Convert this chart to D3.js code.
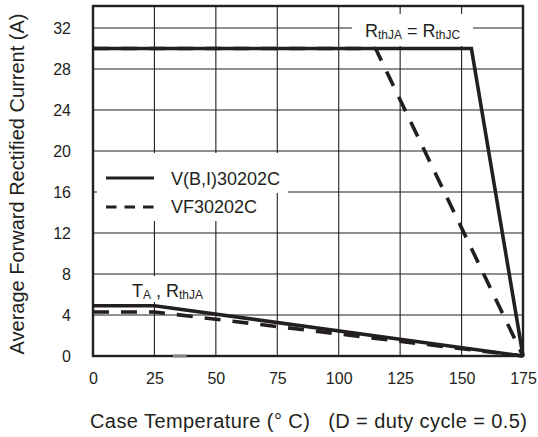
<!DOCTYPE html>
<html><head><meta charset="utf-8">
<script src="https://cdn.jsdelivr.net/npm/d3@7"></script>
<style>body{margin:0;background:#fff}svg{display:block}text{font-family:"Liberation Sans",Arial,sans-serif;fill:#231f20}</style>
</head><body>
<script>
const xTicks = [0,25,50,75,100,125,150,175];
const yTicks = [0,4,8,12,16,20,24,28,32];
const solidCase = [[0,30],[154,30],[175,0]];
const dashedCase = [[0,30],[115,30],[175,0]];
const solidAmb = [[0,4.9],[25,4.9],[175,0]];
const dashedAmb = [[0,4.3],[25,4.3],[175,0]];
const legendNames = ["V(B,I)30202C","VF30202C"];

const W=538,H=437;
const FONT='"Liberation Sans",Arial,sans-serif';
const svg=d3.select("body").append("svg").attr("width",W).attr("height",H);
const x=d3.scaleLinear().domain([0,175]).range([93,523]);
const y=d3.scaleLinear().domain([0,34.15]).range([356,6]);
const ink="#231f20";

// grid
svg.append("g").selectAll("line").data(xTicks.slice(1,-1)).join("line")
  .attr("x1",d=>x(d)).attr("x2",d=>x(d)).attr("y1",y(0)).attr("y2",y(34.15))
  .attr("stroke",ink).attr("stroke-width",1.1);
svg.append("g").selectAll("line").data(yTicks.slice(1)).join("line")
  .attr("x1",x(0)).attr("x2",x(175)).attr("y1",d=>y(d)).attr("y2",d=>y(d))
  .attr("stroke",ink).attr("stroke-width",1.1);

// axes tick labels
const xa=d3.axisBottom(x).tickValues(xTicks).tickSize(0).tickPadding(17);
const gx=svg.append("g").attr("transform",`translate(0,${y(0)})`).call(xa);
gx.select(".domain").remove();
gx.selectAll("text").attr("font-size",16).style("font-family",FONT).attr("fill",ink);
const ya=d3.axisLeft(y).tickValues(yTicks).tickSize(0).tickPadding(22);
const gy=svg.append("g").attr("transform",`translate(${x(0)},0)`).call(ya);
gy.select(".domain").remove();
gy.selectAll("text").attr("font-size",16).style("font-family",FONT).attr("fill",ink);

// white boxes behind labels / legend
svg.append("rect").attr("x",97).attr("y",153).attr("width",191).attr("height",40).attr("fill","#fff");
svg.append("rect").attr("x",97).attr("y",190).attr("width",175).attr("height",31).attr("fill","#fff");
svg.append("rect").attr("x",352).attr("y",14).attr("width",121).attr("height",32).attr("fill","#fff");
svg.append("rect").attr("x",128).attr("y",276).attr("width",78).attr("height",26).attr("fill","#fff");

// frame
svg.append("rect").attr("x",x(0)).attr("y",y(34.15)).attr("width",x(175)-x(0)).attr("height",y(0)-y(34.15))
  .attr("fill","none").attr("stroke",ink).attr("stroke-width",2.4);

// grey mark on x axis
svg.append("line").attr("x1",x(32.5)).attr("x2",x(38)).attr("y1",y(0)).attr("y2",y(0))
  .attr("stroke","#888").attr("stroke-width",3);

const line=d3.line().x(d=>x(d[0])).y(d=>y(d[1]));
function draw(data,dash){
  svg.append("path").datum(data).attr("d",line).attr("fill","none").attr("stroke",ink)
    .attr("stroke-width",3.6).attr("stroke-linejoin","miter").attr("stroke-dasharray",dash||null);
}
draw(dashedCase,"16,12");
draw(dashedAmb,"16,12");
draw(solidCase);
draw(solidAmb);

// legend
svg.append("line").attr("x1",106).attr("x2",154).attr("y1",178).attr("y2",178).attr("stroke",ink).attr("stroke-width",3);
svg.append("line").attr("x1",106).attr("x2",154).attr("y1",207).attr("y2",207).attr("stroke",ink).attr("stroke-width",3).attr("stroke-dasharray","10.5,8");
svg.append("text").attr("x",171).attr("y",185).attr("font-size",18).text(legendNames[0]);
svg.append("text").attr("x",171).attr("y",213).attr("font-size",18).text(legendNames[1]);

// annotations
const t1=svg.append("text").attr("x",365).attr("y",37).attr("font-size",18);
t1.append("tspan").text("R");
t1.append("tspan").attr("font-size",12).attr("dy",2).text("thJA");
t1.append("tspan").attr("dy",-2).text(" = R");
t1.append("tspan").attr("font-size",12).attr("dy",2).text("thJC");
const t2=svg.append("text").attr("x",132).attr("y",297).attr("font-size",18);
t2.append("tspan").text("T");
t2.append("tspan").attr("font-size",12).attr("dy",2).text("A");
t2.append("tspan").attr("dy",-2).attr("xml:space","preserve").text(" , R");
t2.append("tspan").attr("font-size",12).attr("dy",2).text("thJA");

// axis titles
svg.append("text").attr("x",90).attr("y",428).attr("font-size",20)
  .attr("xml:space","preserve").attr("textLength",437).attr("lengthAdjust","spacing")
  .text("Case Temperature (° C)   (D = duty cycle = 0.5)");
svg.append("text").attr("transform","translate(24,184) rotate(-90)").attr("text-anchor","middle").attr("font-size",20)
  .text("Average Forward Rectified Current (A)");
</script>
</body></html>
